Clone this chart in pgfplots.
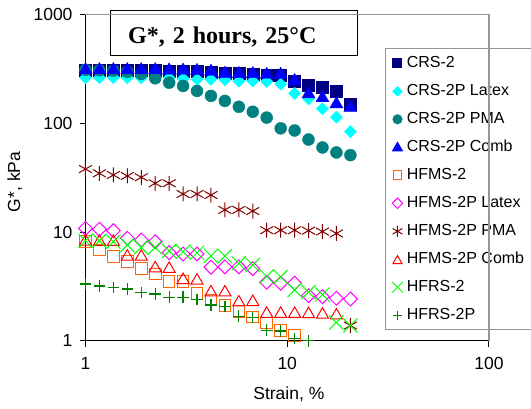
\documentclass[border=0pt]{standalone}
\usepackage{pgfplots}
\pgfplotsset{compat=1.18}
\usepackage{fontspec}
\setmainfont{Liberation Sans}
\newfontfamily\timesfont{Liberation Serif}
\definecolor{cNavy}{RGB}{0,0,128}
\definecolor{cCyan}{RGB}{0,255,255}
\definecolor{cTeal}{RGB}{0,128,128}
\definecolor{cBlue}{RGB}{0,0,255}
\definecolor{cOrange}{RGB}{255,102,0}
\definecolor{cMag}{RGB}{255,0,255}
\definecolor{cDRed}{RGB}{128,0,0}
\definecolor{cRed}{RGB}{255,0,0}
\definecolor{cLime}{RGB}{0,255,0}
\definecolor{cGreen}{RGB}{0,128,0}
\definecolor{cFrame}{RGB}{150,150,150}
\pgfplotsset{mylegend/.style={legend image code/.code={\draw[##1,every mark/.append style={scale=0.75}] plot coordinates {(0pt,0pt)};}}}
\begin{document}
\begin{tikzpicture}
\path[use as bounding box] (-85.5pt,-67.3pt) rectangle (445.5pt,340.7pt);
\begin{axis}[
  scale only axis, width=403.5pt, height=326pt,
  xmode=log, ymode=log,
  xmin=1, xmax=100, ymin=1, ymax=1000,
  axis lines*=left,
  axis line style={black, line width=1pt},
  tick align=outside, major tick length=6pt,
  tick style={black, line width=1pt},
  minor tick style={draw=none},
  xtick={1,10,100}, xticklabels={1,10,100},
  ytick={1,10,100,1000}, yticklabels={1,10,100,1000},
  tick label style={font=\fontsize{17.5}{20}\selectfont},
  yticklabel style={xshift=-3.5pt},
  xticklabel style={yshift=-7pt},
  xlabel={Strain, \%}, ylabel={G*, kPa},
  label style={font=\fontsize{17.5}{20}\selectfont},
  xlabel style={at={(axis description cs:0.504,-0.179)}, anchor=base},
  ylabel style={at={(axis description cs:-0.162,0.487)}, anchor=base, rotate=0},
  clip=false,
  legend cell align=left,
  legend style={at={(axis description cs:0.7415,0.897)}, anchor=north west,
    draw=cFrame, line width=1pt, font=\fontsize{16}{19}\selectfont,
    nodes={inner sep=0pt, text height=12pt, text depth=4pt},
    row sep=12pt, column sep=4pt, inner xsep=7pt, inner ysep=6.5pt},
  extra description/.code={\draw[cFrame, line width=1.3pt] (rel axis cs:0,1) -- (rel axis cs:1,1) -- (rel axis cs:1,0);},
]
\addplot[only marks, mark=square*, color=cNavy, mark size=6pt, mylegend] coordinates {
(1,310)(1.172,310)(1.375,310)(1.612,310)(1.890,310)(2.216,308)(2.598,305)(3.046,305)(3.571,300)(4.187,298)
(4.909,292)(5.756,288)(6.748,283)(7.912,278)(9.278,275)(10.88,245)(12.75,225)(14.95,215)(17.53,196)(20.56,151)};
\addlegendentry{CRS-2}
\addplot[only marks, mark=square*, mark options={rotate=45}, color=cCyan, mark size=4.3pt, mylegend] coordinates {
(1,263)(1.172,263)(1.375,263)(1.612,263)(1.890,263)(2.216,263)(2.598,262)(3.046,258)(3.571,254)(4.187,254)
(4.909,252)(5.756,245)(6.748,245)(7.912,243)(9.278,230)(10.88,189)(12.75,168)(14.95,136)(17.53,114)(20.56,84)};
\addlegendentry{CRS-2P Latex}
\addplot[only marks, mark=*, color=cTeal, mark size=6pt, mylegend] coordinates {
(1,310)(1.172,308)(1.375,305)(1.612,298)(1.890,285)(2.216,260)(2.598,237)(3.046,221)(3.571,199)(4.187,179)
(4.909,161)(5.756,142)(6.748,128)(7.912,113)(9.278,90)(10.88,86)(12.75,71)(14.95,60)(17.53,54)(20.56,51)};
\addlegendentry{CRS-2P PMA}
\addplot[only marks, mark=triangle*, color=cBlue, mark size=7.5pt, mark options={yshift=-0.8pt}, mylegend] coordinates {
(1,315)(1.172,315)(1.375,315)(1.612,315)(1.890,315)(2.216,315)(2.598,313)(3.046,312)(3.571,310)(4.187,305)
(4.909,292)(5.756,290)(6.748,290)(7.912,285)(9.278,285)(10.88,250)(12.75,189)(14.95,174)(17.53,153)(20.56,142)};
\addlegendentry{CRS-2P Comb}
\addplot[only marks, mark=square, color=cOrange, mark size=5.8pt, line width=1pt, mylegend] coordinates {
(1,8.15)(1.172,6.84)(1.375,5.93)(1.612,5.33)(1.890,4.64)(2.216,4.11)(2.598,3.49)(3.046,3.49)(3.571,2.73)(4.187,2.37)
(4.909,2.10)(5.756,1.85)(6.748,1.65)(7.912,1.45)(9.278,1.24)(10.88,1.11)};
\addlegendentry{HFMS-2}
\addplot[only marks, mark=square, mark options={rotate=45}, color=cMag, mark size=4.9pt, line width=1pt, mylegend] coordinates {
(1,10.8)(1.172,10.6)(1.375,10.3)(1.612,8.76)(1.890,8.45)(2.216,8.15)(2.598,6.45)(3.046,6.28)(3.571,6.28)(4.187,4.75)
(4.909,4.78)(5.756,4.78)(6.748,4.6)(7.912,3.45)(9.278,3.38)(10.88,3.38)(12.75,2.6)(14.95,2.54)(17.53,2.46)(20.56,2.42)};
\addlegendentry{HFMS-2P Latex}
\addplot[only marks, mark=asterisk, color=cDRed, mark size=7.5pt, line width=1pt, mylegend] coordinates {
(1,38)(1.172,34.7)(1.375,33.5)(1.612,32.8)(1.890,31.9)(2.216,28.1)(2.598,28.1)(3.046,22.4)(3.571,22.4)(4.187,21.9)
(4.909,16.0)(5.756,16.0)(6.748,15.6)(7.912,10.4)(9.278,10.4)(10.88,10.4)(12.75,10.3)(14.95,10.1)(17.53,9.7)(20.56,1.38)};
\addlegendentry{HFMS-2P PMA}
\addplot[only marks, mark=triangle, color=cRed, mark size=7pt, line width=1pt, mark options={yshift=-1.7pt}, mylegend] coordinates {
(1,8.45)(1.172,8.4)(1.375,8.4)(1.612,6.15)(1.890,6.15)(2.216,4.8)(2.598,4.75)(3.046,3.75)(3.571,3.7)(4.187,2.88)
(4.909,2.88)(5.756,2.33)(6.748,2.35)(7.912,1.83)(9.278,1.83)(10.88,1.83)(12.75,1.82)(14.95,1.80)(17.53,1.77)};
\addlegendentry{HFMS-2P Comb}
\addplot[only marks, mark=x, color=cLime, mark size=10pt, line width=1pt, mylegend] coordinates {
(1,8.32)(1.172,8.32)(1.375,8.15)(1.612,7.6)(1.890,7.23)(2.216,7.23)(2.598,6.69)(3.046,6.6)(3.571,6.45)(4.187,6.02)
(4.909,6.0)(5.756,5.15)(6.748,4.97)(7.912,3.9)(9.278,3.86)(10.88,2.93)(12.75,2.8)(14.95,2.66)(17.53,1.47)(20.56,1.38)};
\addlegendentry{HFRS-2}
\addplot[only marks, mark=+, color=cGreen, mark size=5.8pt, line width=1.3pt, mylegend] coordinates {
(1,3.33)(1.172,3.19)(1.375,3.10)(1.612,2.99)(1.890,2.77)(2.216,2.69)(2.598,2.51)(3.046,2.51)(3.571,2.40)(4.187,2.13)
(4.909,2.06)(5.756,1.68)(6.748,1.64)(7.912,1.25)(9.278,1.23)(10.88,1.05)(12.75,1.0)};
\addlegendentry{HFRS-2P}
\node[draw=black, line width=1.2pt, fill=white, inner xsep=18pt, inner ysep=0pt,
  text width=211.7pt, align=left, minimum height=45pt, text height=21pt, text depth=0pt,
  font=\timesfont\bfseries\fontsize{24}{28}\selectfont]
  at (axis description cs:0.368,0.945) {G*, 2 hours, 25°C};
\end{axis}
\end{tikzpicture}
\end{document}
